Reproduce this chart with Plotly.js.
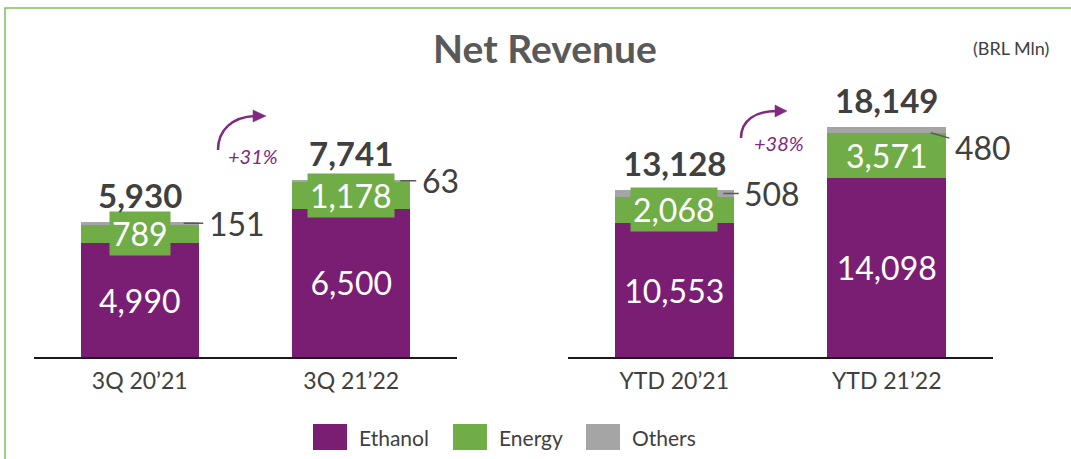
<!DOCTYPE html>
<html>
<head>
<meta charset="utf-8">
<script src="https://cdn.plot.ly/plotly-3.0.1.min.js"></script>
<style>
  html, body { margin: 0; padding: 0; background: #fff; }
  #chart { width: 1071px; height: 459px; }
</style>
</head>
<body>
<div id="chart"></div>
<script>
// ---- data ----
const categoriesQ = ['3Q 20’21', '3Q 21’22'];
const categoriesYTD = ['YTD 20’21', 'YTD 21’22'];
const ethanolQ = [4990, 6500];
const energyQ = [789, 1178];
const othersQ = [151, 63];
const totalQ = [5930, 7741];
const ethanolYTD = [10553, 14098];
const energyYTD = [2068, 3571];
const othersYTD = [508, 480];
const totalYTD = [13128, 18149];
const growthLabels = ['+31%', '+38%'];
const seriesNames = ['Ethanol', 'Energy', 'Others'];

// ---- styles ----
const W = 1071, H = 459;
const COLORS = ['#7A1E74', '#70AD47', '#A5A5A5'];
const TEXT = '#404040';
const FONT = 'Lato, "Open Sans", sans-serif';
const px = x => x / W;
const py = y => 1 - y / H;
const fmt = v => v.toLocaleString('en-US');

function barTraces(cats, eth, ene, oth, xa, ya) {
  return [
    { type: 'bar', x: cats, y: eth, name: seriesNames[0], xaxis: xa, yaxis: ya,
      marker: { color: COLORS[0] }, width: 0.56,
      text: eth.map(fmt), textposition: 'inside', insidetextanchor: 'middle',
      textangle: 0, textfont: { color: '#fff', size: 32, family: FONT },
      hoverinfo: 'none', showlegend: false },
    { type: 'bar', x: cats, y: ene, name: seriesNames[1], xaxis: xa, yaxis: ya,
      marker: { color: COLORS[1] }, width: 0.56, textposition: 'none',
      hoverinfo: 'none', showlegend: false },
    { type: 'bar', x: cats, y: oth, name: seriesNames[2], xaxis: xa, yaxis: ya,
      marker: { color: COLORS[2] }, width: 0.56, textposition: 'none',
      hoverinfo: 'none', showlegend: false }
  ];
}

const data = [
  ...barTraces(categoriesQ, ethanolQ, energyQ, othersQ, 'x', 'y'),
  ...barTraces(categoriesYTD, ethanolYTD, energyYTD, othersYTD, 'x2', 'y2')
];

const annotations = [];
function panelAnnotations(cats, eth, ene, oth, tot, xa, ya, othOffsets) {
  cats.forEach((c, i) => {
    // energy label with green box
    annotations.push({ xref: xa, yref: ya, x: c, y: eth[i] + ene[i] / 2,
      text: fmt(ene[i]), showarrow: false, bgcolor: COLORS[1], borderpad: 2,
      font: { color: '#fff', size: 32, family: FONT }, xanchor: 'center', yanchor: 'middle' });
    // totals
    annotations.push({ xref: xa, yref: ya, x: c, y: tot[i], yshift: 27,
      text: '<b>' + fmt(tot[i]) + '</b>', showarrow: false,
      font: { color: TEXT, size: 33, family: FONT }, xanchor: 'center', yanchor: 'middle' });
    // others with leader line
    const o = othOffsets[i];
    annotations.push({ xref: xa, yref: ya, x: c, y: o.top ? eth[i] + ene[i] : eth[i] + ene[i] + oth[i] / 2,
      xshift: o.xs, text: fmt(oth[i]), showarrow: true, arrowhead: 0, arrowwidth: 1.5,
      arrowcolor: '#595959', ax: o.ax, ay: o.ay, standoff: 0, startstandoff: 4,
      font: { color: TEXT, size: 32, family: FONT } });
  });
}
panelAnnotations(categoriesQ, ethanolQ, energyQ, othersQ, totalQ, 'x', 'y',
  [{ xs: 44, ax: 53, ay: 0 }, { xs: 49, ax: 40, ay: 0 }]);
panelAnnotations(categoriesYTD, ethanolYTD, energyYTD, othersYTD, totalYTD, 'x2', 'y2',
  [{ xs: 49, ax: 49, ay: 0 }, { xs: 44, ax: 52, ay: 15, top: true }]);

// growth labels
annotations.push({ xref: 'paper', yref: 'paper', x: px(253), y: py(156), xanchor: 'center', yanchor: 'middle',
  text: '<i>' + growthLabels[0] + '</i>', showarrow: false, font: { color: '#7F2A80', size: 20, family: FONT } });
annotations.push({ xref: 'paper', yref: 'paper', x: px(779), y: py(143), xanchor: 'center', yanchor: 'middle',
  text: '<i>' + growthLabels[1] + '</i>', showarrow: false, font: { color: '#7F2A80', size: 20, family: FONT } });

// unit label
annotations.push({ xref: 'paper', yref: 'paper', x: px(1051), y: py(48), xanchor: 'right', yanchor: 'middle',
  text: '(BRL Mln)', showarrow: false, font: { color: TEXT, size: 18, family: FONT } });

// custom legend
const legendBoxes = [313, 453, 586];
const shapes = [];
seriesNames.forEach((n, i) => {
  shapes.push({ type: 'rect', xref: 'paper', yref: 'paper', x0: px(legendBoxes[i]), x1: px(legendBoxes[i] + 34),
    y0: py(450), y1: py(424), fillcolor: COLORS[i], line: { width: 0 } });
  annotations.push({ xref: 'paper', yref: 'paper', x: px(legendBoxes[i] + 44), y: py(437), xanchor: 'left', yanchor: 'middle',
    text: n, showarrow: false, font: { color: TEXT, size: 21, family: FONT } });
});

// curved growth arrows
function arcPath(pts) {
  return 'M ' + px(pts[0]) + ' ' + py(pts[1]) + ' C ' + px(pts[2]) + ' ' + py(pts[3]) + ', ' +
    px(pts[4]) + ' ' + py(pts[5]) + ', ' + px(pts[6]) + ' ' + py(pts[7]);
}
function triPath(p) {
  return 'M ' + px(p[0]) + ' ' + py(p[1]) + ' L ' + px(p[2]) + ' ' + py(p[3]) + ' L ' + px(p[4]) + ' ' + py(p[5]) + ' Z';
}
const ARROW = '#7F2A80';
shapes.push({ type: 'path', xref: 'paper', yref: 'paper', path: arcPath([218, 150, 218, 130, 232, 117, 255, 116]),
  line: { color: ARROW, width: 2.5 } });
shapes.push({ type: 'path', xref: 'paper', yref: 'paper', path: triPath([253, 110, 266, 116, 253, 122]),
  fillcolor: ARROW, line: { color: ARROW, width: 0.5 } });
shapes.push({ type: 'path', xref: 'paper', yref: 'paper', path: arcPath([741, 138, 741, 120, 756, 111, 777, 111]),
  line: { color: ARROW, width: 2.5 } });
shapes.push({ type: 'path', xref: 'paper', yref: 'paper', path: triPath([775, 105, 787, 111, 775, 117]),
  fillcolor: ARROW, line: { color: ARROW, width: 0.5 } });

// outer frame
shapes.push({ type: 'rect', xref: 'paper', yref: 'paper', x0: px(5), x1: px(1090), y0: py(480), y1: py(8),
  line: { color: '#86BF60', width: 1.5 }, fillcolor: 'rgba(0,0,0,0)' });

const yDomain = [py(357), py(60)];
const xAxisCommon = { type: 'category', showline: true, linecolor: '#1a1a1a', linewidth: 2,
  showgrid: false, zeroline: false, ticks: '', fixedrange: true, ticklabelstandoff: 2,
  tickfont: { color: TEXT, size: 23, family: FONT }, range: [-0.5, 1.5] };
const yAxisCommon = { showgrid: false, zeroline: false, showticklabels: false, showline: false, fixedrange: true };

const layout = {
  width: W, height: H,
  margin: { l: 0, r: 0, t: 0, b: 0 },
  paper_bgcolor: '#fff', plot_bgcolor: 'rgba(0,0,0,0)',
  barmode: 'stack', showlegend: false,
  font: { family: FONT, color: TEXT },
  title: { text: '<b>Net Revenue</b>', xref: 'container', yref: 'container',
    x: px(545), y: py(49), xanchor: 'center', yanchor: 'middle',
    font: { size: 39, color: '#595959', family: FONT } },
  xaxis: Object.assign({}, xAxisCommon, { domain: [px(34), px(457)], anchor: 'y' }),
  yaxis: Object.assign({}, yAxisCommon, { domain: yDomain, range: [0, 13000], anchor: 'x' }),
  xaxis2: Object.assign({}, xAxisCommon, { domain: [px(568), px(993)], anchor: 'y2' }),
  yaxis2: Object.assign({}, yAxisCommon, { domain: yDomain, range: [0, 23400], anchor: 'x2' }),
  annotations: annotations,
  shapes: shapes
};

Plotly.newPlot('chart', data, layout, { displayModeBar: false, staticPlot: true });
</script>
</body>
</html>
